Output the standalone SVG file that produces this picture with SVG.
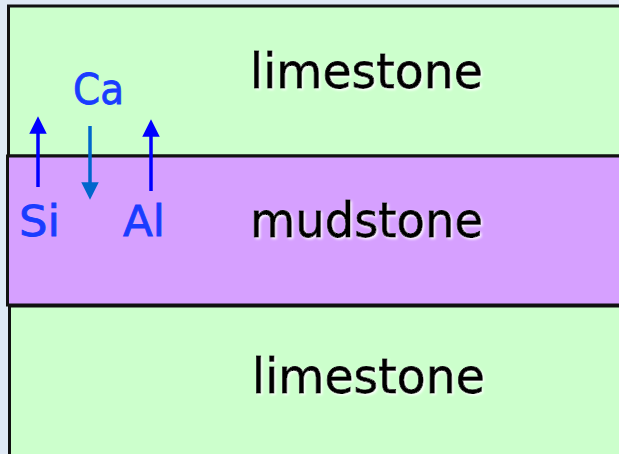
<svg xmlns="http://www.w3.org/2000/svg" width="619" height="454" viewBox="0 0 619 454">
  <defs>
    <filter id="glow" x="-10%" y="-20%" width="120%" height="140%">
      <feDropShadow dx="1.5" dy="1.5" stdDeviation="1" flood-color="#ffffff" flood-opacity="0.9"/>
    </filter>
    <marker id="headBlue" markerWidth="5" markerHeight="5" refX="2.5" refY="2.5" orient="auto" markerUnits="strokeWidth" viewBox="0 0 5 5">
      <path d="M0,0 L5,2.5 L0,5 Z" fill="#0000ff"/>
    </marker>
    <marker id="headSteel" markerWidth="5" markerHeight="5" refX="2.5" refY="2.5" orient="auto" markerUnits="strokeWidth" viewBox="0 0 5 5">
      <path d="M0,0 L5,2.5 L0,5 Z" fill="#0066cc"/>
    </marker>
  </defs>
  <style>
    .layer { stroke: #111111; stroke-width: 3; }
    .lime { fill: #ccffcc; }
    .mud { fill: #d6a0ff; }
    .rock { font-family: "DejaVu Sans", "Liberation Sans", sans-serif; font-size: 48px; fill: #000000; stroke: #000000; stroke-width: 0.8; filter: url(#glow); }
    .elem { font-family: "DejaVu Sans", "Liberation Sans", sans-serif; font-size: 42px; fill: #1a3cff; stroke: #1a3cff; stroke-width: 0.8; }
  </style>

  <!-- page background -->
  <rect x="0" y="0" width="619" height="454" fill="#dfe9f5"/>

  <!-- upper limestone bed -->
  <g id="limestone-top">
    <rect class="layer lime" x="8.5" y="6" width="620" height="150"/>
    <text class="rock" x="250" y="88" textLength="233" lengthAdjust="spacingAndGlyphs">limestone</text>
  </g>

  <!-- bottom limestone bed -->
  <g id="limestone-bottom">
    <rect class="layer lime" x="9.5" y="306" width="620" height="160"/>
    <text class="rock" x="252" y="393" textLength="233" lengthAdjust="spacingAndGlyphs">limestone</text>
  </g>

  <!-- mudstone bed -->
  <g id="mudstone">
    <rect class="layer mud" x="7.5" y="156" width="620" height="149" stroke-width="4"/>
    <text class="rock" x="250" y="237" textLength="233" lengthAdjust="spacingAndGlyphs">mudstone</text>
  </g>

  <!-- element labels -->
  <g id="label-ca">
    <text class="elem" x="73" y="104" textLength="51" lengthAdjust="spacingAndGlyphs">Ca</text>
  </g>
  <g id="label-si">
    <text class="elem" x="19" y="236" textLength="41" lengthAdjust="spacingAndGlyphs">Si</text>
  </g>
  <g id="label-al">
    <text class="elem" x="123" y="236" textLength="42" lengthAdjust="spacingAndGlyphs">Al</text>
  </g>

  <!-- element migration arrows -->
  <g id="connectors">
    <line x1="38" y1="187" x2="38" y2="125" stroke="#0000ff" stroke-width="3.5" marker-end="url(#headBlue)"/>
    <line x1="151" y1="191" x2="151" y2="128" stroke="#0000ff" stroke-width="3.5" marker-end="url(#headBlue)"/>
    <line x1="90" y1="126" x2="90" y2="191" stroke="#0066cc" stroke-width="3.5" marker-end="url(#headSteel)"/>
  </g>
</svg>
